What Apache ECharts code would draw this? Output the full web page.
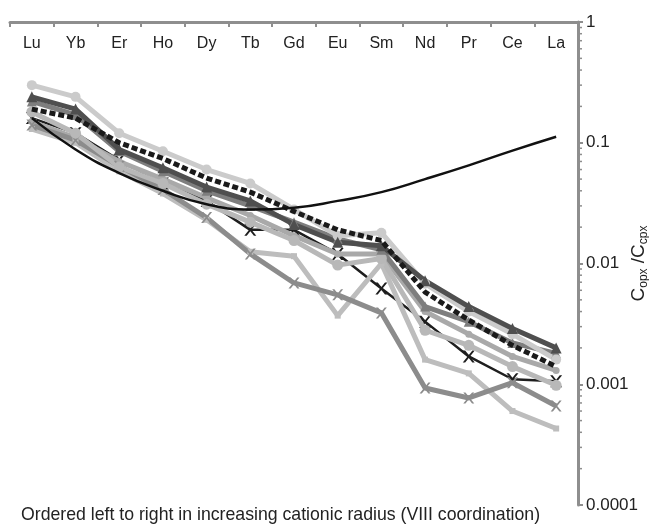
<!DOCTYPE html>
<html>
<head>
<meta charset="utf-8">
<script src="https://cdn.jsdelivr.net/npm/echarts@6/dist/echarts.min.js"></script>
<style>
  html, body { margin: 0; padding: 0; background: #fff; }
  #chart { width: 649px; height: 527px; }
</style>
</head>
<body>
<div id="chart"></div>
<script>
// REE order, left to right by increasing cationic radius
const elements = ['Lu', 'Yb', 'Er', 'Ho', 'Dy', 'Tb', 'Gd', 'Eu', 'Sm', 'Nd', 'Pr', 'Ce', 'La'];

// Copx/Ccpx (one list per sample)
const lightTop    = [0.30, 0.24, 0.12, 0.085, 0.060, 0.046, 0.028, 0.017, 0.018, 0.0068, 0.0040, 0.0026, 0.0016];
const darkTri     = [0.24, 0.19, 0.088, 0.062, 0.043, 0.033, 0.021, 0.015, 0.014, 0.0072, 0.0044, 0.0029, 0.0020];
const dashedBlack = [0.19, 0.16, 0.10, 0.074, 0.051, 0.039, 0.027, 0.019, 0.0155, 0.0058, 0.0034, 0.0021, 0.0014];
const modelCurve  = [0.16, 0.088, 0.056, 0.040, 0.031, 0.028, 0.029, 0.033, 0.039, 0.050, 0.065, 0.086, 0.112];
const midStar     = [0.14, 0.105, 0.064, 0.041, 0.024, 0.012, 0.0069, 0.0055, 0.0039, 0.00093, 0.00077, 0.00103, 0.00066];
const lightV      = [0.13, 0.10, 0.058, 0.038, 0.023, 0.0125, 0.0115, 0.0037, 0.010, 0.0016, 0.00123, 0.00060, 0.00043];
const lightCircle = [0.18, 0.12, 0.063, 0.046, 0.031, 0.022, 0.0155, 0.0097, 0.011, 0.0028, 0.0021, 0.0014, 0.00098];
const blackCross  = [0.16, 0.12, 0.072, 0.046, 0.033, 0.019, 0.019, 0.012, 0.0062, 0.0033, 0.0017, 0.0011, 0.00106];
const midTri      = [0.22, 0.17, 0.085, 0.058, 0.040, 0.030, 0.022, 0.016, 0.013, 0.0044, 0.0033, 0.0022, 0.0018];
const paleGray    = [0.15, 0.11, 0.070, 0.050, 0.035, 0.025, 0.017, 0.012, 0.012, 0.0040, 0.0026, 0.0017, 0.0013];

// log minor ticks (2..9 per decade)
const minorTicks = [];
[0.0001, 0.001, 0.01, 0.1].forEach((d) => {
  for (let k = 2; k <= 9; k++) minorTicks.push(+(d * k).toPrecision(2));
});

const axisGray = '#8e8e8e';
const crossPath = 'path://M0,0 L2,0 L5,3 L8,0 L10,0 L6,4 L10,8 L8,8 L5,5 L2,8 L0,8 L4,4 Z';

function line(name, data, color, opts) {
  return Object.assign({
    name,
    type: 'line',
    data,
    symbol: 'circle',
    symbolSize: 9,
    lineStyle: { color, width: 5 },
    itemStyle: { color },
    z: 3
  }, opts || {});
}

const chart = echarts.init(document.getElementById('chart'), null, { renderer: 'canvas' });
chart.setOption({
  animation: false,
  backgroundColor: '#fff',
  textStyle: { fontFamily: 'Liberation Sans, Arial, sans-serif' },
  grid: { left: 10, right: 71, top: 22, bottom: 22, outerBoundsMode: 'none', containLabel: false },
  xAxis: {
    type: 'category',
    position: 'top',
    data: elements,
    boundaryGap: true,
    axisLine: { show: true, lineStyle: { color: axisGray, width: 3 } },
    axisTick: { show: true, inside: true, length: 5, interval: 0, lineStyle: { color: axisGray, width: 2 } },
    axisLabel: { inside: true, margin: 14, color: '#222', fontSize: 16 },
    splitLine: { show: false }
  },
  yAxis: {
    type: 'log',
    logBase: 10,
    min: 0.0001,
    max: 1,
    position: 'right',
    axisLine: { show: true, lineStyle: { color: axisGray, width: 3 } },
    axisTick: { show: true, length: 5, lineStyle: { color: axisGray, width: 2 } },
    axisLabel: {
      color: '#222',
      fontSize: 17,
      margin: 8,
      formatter: (v) => String(Number(v.toPrecision(1)))
    },
    splitLine: { show: false },
    name: '{c|C}{s|opx}{c| /C}{s|cpx}',
    nameLocation: 'middle',
    nameRotate: 90,
    nameGap: 50,
    nameMoveOverlap: false,
    nameTextStyle: {
      rich: {
        c: { fontSize: 19, color: '#222', lineHeight: 22 },
        s: { fontSize: 12, color: '#222', lineHeight: 22, padding: [9, 0, 0, 0] }
      }
    }
  },
  graphic: [{
    type: 'text',
    left: 21,
    top: 506,
    style: {
      text: 'Ordered left to right in increasing cationic radius (VIII coordination)',
      fill: '#222',
      font: '17.7px Liberation Sans, Arial, sans-serif'
    }
  }],
  series: [
    line('blackCross', blackCross, '#1e1e1e', { symbol: crossPath, symbolSize: 12, lineStyle: { color: '#1e1e1e', width: 2.5 }, z: 2 }),
    line('pale', paleGray, '#a9a9a9', { symbolSize: 7 }),
    line('lightV', lightV, '#bdbdbd', { symbol: 'rect', symbolSize: 6 }),
    line('midStar', midStar, '#8c8c8c', { symbol: crossPath, symbolSize: 11 }),
    line('lightCircle', lightCircle, '#b8b8b8', { symbolSize: 11 }),
    line('midTri', midTri, '#7e7e7e', { symbol: 'triangle', symbolSize: 10 }),
    line('lightTop', lightTop, '#cbcbcb', { symbolSize: 10 }),
    line('darkTri', darkTri, '#4f4f4f', { symbol: 'triangle', symbolSize: 11 }),
    line('dashed', dashedBlack, '#1a1a1a', { showSymbol: false, lineStyle: { color: '#1a1a1a', width: 5, type: [6, 3] }, z: 4 }),
    line('model', modelCurve, '#111', { showSymbol: false, smooth: 0.5, lineStyle: { color: '#111', width: 2.5 }, z: 5 }),
    {
      name: 'minorTicks',
      type: 'custom',
      data: minorTicks.map((v) => [0, v]),
      clip: false,
      silent: true,
      z: 6,
      renderItem(params, api) {
        const cs = params.coordSys;
        const y = api.coord([0, api.value(1)])[1];
        const x = cs.x + cs.width;
        return {
          type: 'line',
          shape: { x1: x, y1: y, x2: x + 4, y2: y },
          style: { stroke: axisGray, lineWidth: 1.5 }
        };
      }
    }
  ]
});
</script>
</body>
</html>
